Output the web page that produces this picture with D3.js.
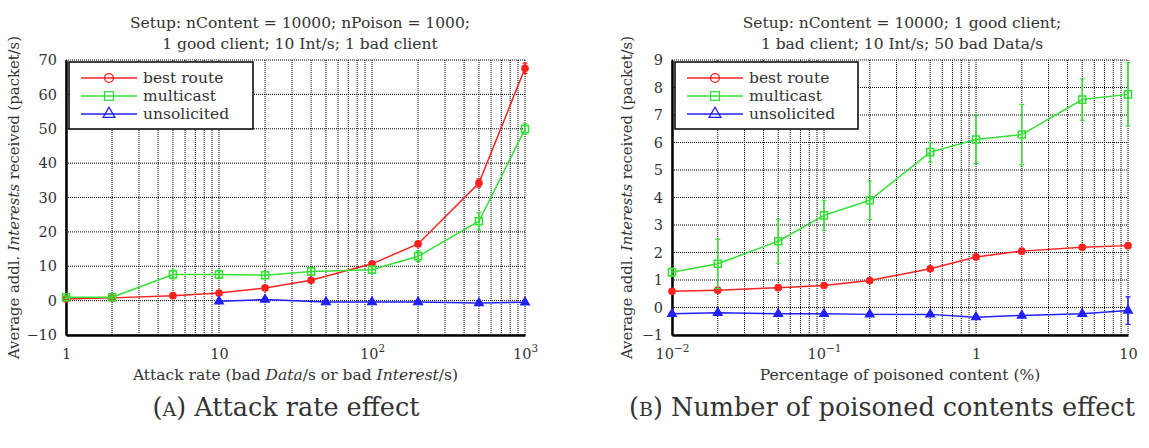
<!DOCTYPE html>
<html>
<head>
<meta charset="utf-8">
<script src="https://cdn.jsdelivr.net/npm/d3@7"></script>
<style>
body { margin: 0; background: #fff; }
text { font-family: "DejaVu Serif", serif; fill: #333; }
</style>
</head>
<body>
<div id="chart"></div>
<script>
// panel A: attack rate
const attackRate = [1, 2, 5, 10, 20, 40, 100, 200, 500, 1000];
const bestRouteA = [0.5, 0.8, 1.45, 2.2, 3.7, 5.9, 10.7, 16.5, 34.2, 67.6];
const bestRouteAErr = [0.2, 0.2, 0.3, 0.3, 0.4, 0.4, 0.5, 0.6, 1.2, 1.5];
const multicastA = [1.0, 1.0, 7.6, 7.6, 7.4, 8.5, 9.0, 12.9, 23.1, 49.9];
const multicastAErr = [0.4, 0.4, 1.3, 1.2, 1.0, 1.0, 1.0, 1.5, 2.5, 1.5];
const unsolRateA = [10, 20, 50, 100, 200, 500, 1000];
const unsolicitedA = [-0.2, 0.3, -0.4, -0.4, -0.4, -0.7, -0.5];
const unsolicitedAErr = [0.3, 0.5, 0.3, 0.3, 0.3, 0.3, 0.3];
const xTicksA = [1, 10, 100, 1000];
const xLabelsA = ["1", "10", "10^2", "10^3"];
const yTicksA = [-10, 0, 10, 20, 30, 40, 50, 60, 70];

// panel B: poisoned content share
const poisonPct = [0.01, 0.02, 0.05, 0.1, 0.2, 0.5, 1, 2, 5, 10];
const bestRouteB = [0.59, 0.63, 0.72, 0.8, 0.98, 1.41, 1.84, 2.05, 2.19, 2.25];
const bestRouteBErr = [0.04, 0.05, 0.05, 0.05, 0.05, 0.07, 0.08, 0.06, 0.08, 0.08];
const multicastB = [1.28, 1.59, 2.41, 3.35, 3.9, 5.65, 6.11, 6.29, 7.56, 7.75];
const multicastBErr = [0.15, 0.9, 0.8, 0.55, 0.7, 0.36, 0.88, 1.1, 0.75, 1.15];
const unsolicitedB = [-0.23, -0.19, -0.23, -0.23, -0.25, -0.25, -0.35, -0.29, -0.23, -0.11];
const unsolicitedBErr = [0.05, 0.05, 0.05, 0.05, 0.05, 0.05, 0.06, 0.06, 0.05, 0.5];
const xTicksB = [0.01, 0.1, 1, 10];
const xLabelsB = ["10^−2", "10^−1", "1", "10"];
const yTicksB = [-1, 0, 1, 2, 3, 4, 5, 6, 7, 8, 9];

const seriesNames = ["best route", "multicast", "unsolicited"];
const colors = ["#ff2020", "#33e033", "#2020ff"];
const symbols = [d3.symbolCircle, d3.symbolSquare, d3.symbolTriangle];

const plotTop = 60, plotBottom = 335;

const svg = d3.select("#chart")
    .append("svg")
    .attr("width", 1149)
    .attr("height", 448);

function drawPanel(p) {
    const x = d3.scaleLog().domain(p.xDomain).range([p.left, p.right]);
    const y = d3.scaleLinear().domain(p.yDomain).range([plotBottom, plotTop]);
    const g = svg.append("g");
    const cx = (p.left + p.right) / 2;

    // dotted grid
    g.append("g")
        .selectAll("line")
        .data(x.ticks())
        .join("line")
        .attr("x1", d => x(d)).attr("x2", d => x(d))
        .attr("y1", plotTop).attr("y2", plotBottom)
        .attr("stroke", "#000").attr("stroke-width", 1)
        .attr("stroke-dasharray", "1,1");
    g.append("g")
        .selectAll("line")
        .data(p.yTicks)
        .join("line")
        .attr("x1", p.left).attr("x2", p.right)
        .attr("y1", d => y(d)).attr("y2", d => y(d))
        .attr("stroke", "#000").attr("stroke-width", 1)
        .attr("stroke-dasharray", "1,1");

    // axes
    const xAxis = g.append("g")
        .attr("transform", "translate(0," + plotBottom + ")")
        .call(d3.axisBottom(x).tickValues(p.xTicks).tickSize(0).tickPadding(10).tickFormat(""));
    xAxis.select(".domain").attr("stroke", "#000").attr("stroke-width", 2.5);
    xAxis.selectAll(".tick text").each(function(d, i) {
        const parts = p.xLabels[i].split("^");
        const t = d3.select(this).attr("font-size", 14.5).attr("dy", "0.95em")
            .style("font-family", '"DejaVu Serif", serif').attr("fill", "#333");
        t.append("tspan").text(parts[0]);
        if (parts[1]) t.append("tspan").attr("font-size", 10.5).attr("dy", "-0.6em").text(parts[1]);
    });

    const yAxis = g.append("g")
        .attr("transform", "translate(" + p.left + ",0)")
        .call(d3.axisLeft(y).tickValues(p.yTicks).tickSize(0).tickPadding(9));
    yAxis.select(".domain").attr("stroke", "#000").attr("stroke-width", 2.5);
    yAxis.selectAll(".tick text").attr("font-size", 14.5)
        .style("font-family", '"DejaVu Serif", serif').attr("fill", "#333");

    // series
    p.series.forEach((s, k) => {
        const pts = s.xs.map((v, i) => ({x: v, y: s.ys[i], e: s.err[i]}));
        const sg = g.append("g");
        sg.selectAll("line.err")
            .data(pts)
            .join("line")
            .attr("class", "err")
            .attr("x1", d => x(d.x)).attr("x2", d => x(d.x))
            .attr("y1", d => y(d.y - d.e)).attr("y2", d => y(d.y + d.e))
            .attr("stroke", colors[k]).attr("stroke-width", 1.5);
        sg.selectAll("path.cap")
            .data(pts)
            .join("path")
            .attr("class", "cap")
            .attr("d", d => "M" + (x(d.x) - 2.5) + "," + y(d.y - d.e) + "h5M" + (x(d.x) - 2.5) + "," + y(d.y + d.e) + "h5")
            .attr("stroke", colors[k]).attr("stroke-width", 1.2);
        sg.append("path")
            .datum(pts)
            .attr("d", d3.line().x(d => x(d.x)).y(d => y(d.y)))
            .attr("fill", "none")
            .attr("stroke", colors[k]).attr("stroke-width", 1.5);
        sg.selectAll("path.mark")
            .data(pts)
            .join("path")
            .attr("class", "mark")
            .attr("transform", d => "translate(" + x(d.x) + "," + y(d.y) + ")")
            .attr("d", d3.symbol().type(symbols[k]).size(k === 1 ? 50 : 30))
            .attr("fill", k === 1 ? "none" : colors[k])
            .attr("stroke", colors[k]).attr("stroke-width", 1.5);
    });

    // legend
    const lg = g.append("g");
    lg.append("rect")
        .attr("x", p.left + 3).attr("y", plotTop + 2)
        .attr("width", p.legendW).attr("height", 67)
        .attr("fill", "#fff").attr("stroke", "#000").attr("stroke-width", 1.5);
    seriesNames.forEach((name, k) => {
        const ly = 78 + k * 18;
        lg.append("line")
            .attr("x1", p.left + 15).attr("x2", p.left + 71)
            .attr("y1", ly).attr("y2", ly)
            .attr("stroke", colors[k]).attr("stroke-width", 1.5);
        lg.append("path")
            .attr("transform", "translate(" + (p.left + 43) + "," + ly + ")")
            .attr("d", d3.symbol().type(symbols[k]).size(k === 1 ? 80 : 60))
            .attr("fill", "none").attr("stroke", colors[k]).attr("stroke-width", 1.3);
        lg.append("text")
            .attr("x", p.left + 77).attr("y", ly + 5)
            .attr("font-size", 15.5).attr("fill", "#222")
            .text(name);
    });

    // title
    p.title.forEach((line, i) => {
        g.append("text")
            .attr("x", p.titleX).attr("y", 28 + i * 20.5)
            .attr("text-anchor", "middle").attr("font-size", 15.5)
            .text(line);
    });

    // axis labels
    const xl = g.append("text")
        .attr("x", cx).attr("y", 380)
        .attr("text-anchor", "middle").attr("font-size", 15.5);
    p.xLabel.forEach(seg => xl.append("tspan").attr("font-style", seg[1] ? "italic" : null).text(seg[0]));

    const yl = g.append("text")
        .attr("transform", "translate(" + p.yLabelX + "," + ((plotTop + plotBottom) / 2) + ") rotate(-90)")
        .attr("text-anchor", "middle").attr("font-size", 14.8);
    yl.append("tspan").text("Average addl. ");
    yl.append("tspan").attr("font-style", "italic").text("Interests");
    yl.append("tspan").text(" received (packet/s)");

    // caption
    const cap = g.append("text")
        .attr("x", p.captionX).attr("y", 416)
        .attr("text-anchor", "middle").attr("font-size", 25.5).attr("fill", "#1a1a1a");
    cap.append("tspan").text("(");
    cap.append("tspan").attr("font-size", 19).text(p.captionLetter);
    cap.append("tspan").text(") " + p.caption);
}

drawPanel({
    left: 66, right: 525,
    xDomain: [1, 1000], yDomain: [-10, 70],
    xTicks: xTicksA, xLabels: xLabelsA, yTicks: yTicksA,
    series: [
        {xs: attackRate, ys: bestRouteA, err: bestRouteAErr},
        {xs: attackRate, ys: multicastA, err: multicastAErr},
        {xs: unsolRateA, ys: unsolicitedA, err: unsolicitedAErr}
    ],
    legendW: 184,
    title: ["Setup: nContent = 10000; nPoison = 1000;", "1 good client; 10 Int/s; 1 bad client"],
    titleX: 300,
    xLabel: [["Attack rate (bad "], ["Data", true], ["/s or bad "], ["Interest", true], ["/s)"]],
    yLabelX: 19,
    captionX: 286, captionLetter: "A", caption: "Attack rate effect"
});

drawPanel({
    left: 672, right: 1128,
    xDomain: [0.01, 10], yDomain: [-1, 9],
    xTicks: xTicksB, xLabels: xLabelsB, yTicks: yTicksB,
    series: [
        {xs: poisonPct, ys: bestRouteB, err: bestRouteBErr},
        {xs: poisonPct, ys: multicastB, err: multicastBErr},
        {xs: poisonPct, ys: unsolicitedB, err: unsolicitedBErr}
    ],
    legendW: 183,
    title: ["Setup: nContent = 10000; 1 good client;", "1 bad client; 10 Int/s; 50 bad Data/s"],
    titleX: 902,
    xLabel: [["Percentage of poisoned content (%)"]],
    yLabelX: 632,
    captionX: 882, captionLetter: "B", caption: "Number of poisoned contents effect"
});
</script>
</body>
</html>
